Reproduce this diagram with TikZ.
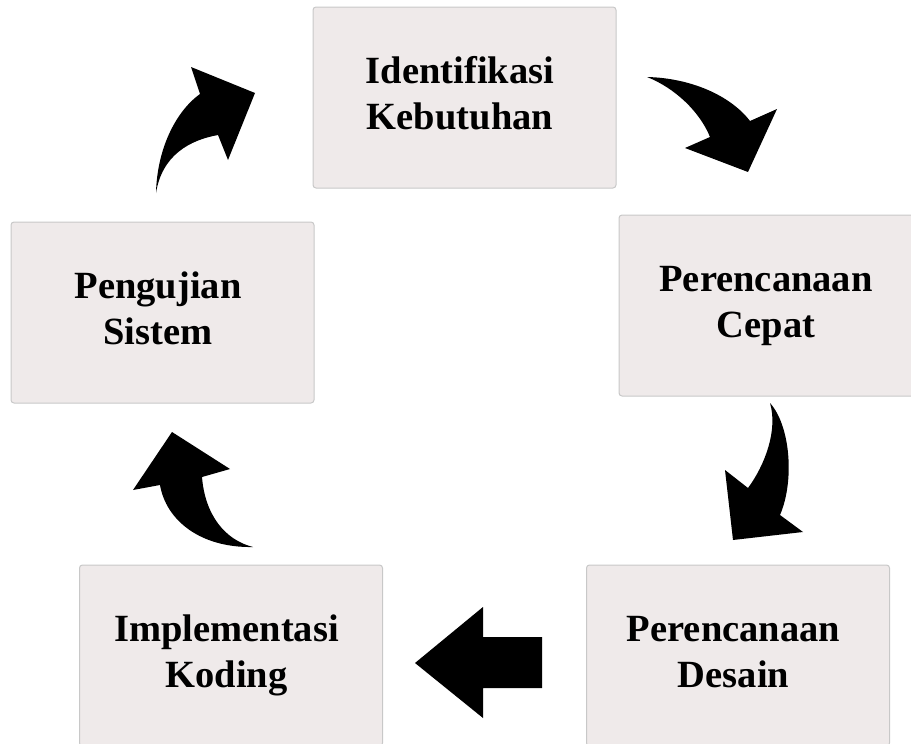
\documentclass[tikz,border=0pt]{standalone}
\usepackage{fontspec}
\setmainfont{Liberation Serif}
\usepackage{tikz}
\usetikzlibrary{positioning}

\definecolor{boxfill}{RGB}{239,234,234}
\definecolor{boxline}{RGB}{200,200,200}

\newcommand{\duabaris}[2]{\strut #1\hspace*{9pt}\\#2\hspace*{9pt}\strut}

\tikzset{
  tahap/.style={rectangle, rounded corners=3pt, fill=boxfill, draw=boxline, line width=1pt,
    minimum width=303pt, minimum height=181pt, align=center,
    font=\bfseries\fontsize{38.5}{46}\selectfont},
  panah/.style={fill=black}
}

\begin{document}
\begin{tikzpicture}[x=1pt, y=-1pt]
    \useasboundingbox (0,0) rectangle (911,744);

    \node[tahap] (ident)  at (464.5, 97.5)  {\duabaris{Identifikasi}{Kebutuhan}};
    \node[tahap] (cepat)  at (770.5, 305.5) {\duabaris{Perencanaan}{Cepat}};
    \node[tahap] (desain) at (738, 655.5)   {\duabaris{Perencanaan}{Desain}};
    \node[tahap] (koding) at (231, 655.5)   {\duabaris{Implementasi}{Koding}};
    \node[tahap] (uji)    at (162.5, 312.5) {\duabaris{Pengujian}{Sistem}};

    \fill[panah] (647,77) .. controls (690,78) and (730,95) .. (750,121) -- (777,109) -- (748,172)
      -- (685,148) -- (710,137) .. controls (700,112) and (675,88) .. (647,77) -- cycle;
    \fill[panah] (770,403) .. controls (790,425) and (795,480) .. (780,515) -- (803,532) -- (733,540)
      -- (725,470) -- (748,488) .. controls (765,465) and (778,430) .. (770,403) -- cycle;
    \fill[panah] (415,663) -- (483,607) -- (483,637) -- (542,637) -- (542,688) -- (483,688) -- (483,718) -- cycle;
    \fill[panah] (172,432) -- (230,469) -- (202,477) .. controls (205,515) and (225,540) .. (253,547)
      .. controls (200,548) and (166,520) .. (160,485) -- (133,490) -- cycle;
    \fill[panah] (156,193) .. controls (157,150) and (175,112) .. (200,94) -- (191,67) -- (255,93)
      -- (228,160) -- (218,135) .. controls (190,140) and (162,155) .. (156,193) -- cycle;
\end{tikzpicture}
\end{document}
